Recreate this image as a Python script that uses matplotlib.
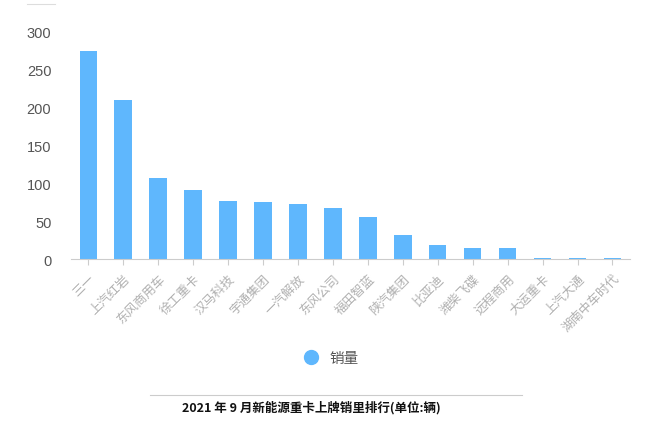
import matplotlib
matplotlib.use("Agg")
import matplotlib.pyplot as plt
from matplotlib.lines import Line2D

plt.rcParams['font.family'] = ['Noto Sans CJK SC', 'DejaVu Sans']

brands = ["三一", "上汽红岩", "东风商用车", "徐工重卡", "汉马科技", "宇通集团",
          "一汽解放", "东风公司", "福田智蓝", "陕汽集团", "比亚迪", "潍柴飞碟",
          "远程商用", "大运重卡", "上汽大通", "湖南中车时代"]
sales = [274, 209, 107, 91, 76, 75, 72, 67, 55, 32, 19, 14, 14, 2, 2, 1]
series_name = "销量"
title = "2021 年 9 月新能源重卡上牌销里排行(单位:辆)"

bar_color = "#5fb7fd"

fig = plt.figure(figsize=(6.68, 4.27), dpi=100)
ax = fig.add_axes([0.106, 0.391, 0.837, 0.534])

x = list(range(len(brands)))
ax.bar(x, sales, width=0.5, color=bar_color)

ax.set_xlim(-0.5, len(brands) - 0.5)
ax.set_ylim(0, 300)
ax.set_yticks([0, 50, 100, 150, 200, 250, 300])
ax.tick_params(axis='y', length=0, labelsize=10.5, labelcolor='#555555', pad=14)
for lbl in ax.get_yticklabels():
    lbl.set_family(['Liberation Sans', 'DejaVu Sans'])
ax.set_xticks(x)
ax.set_xticklabels(brands, rotation=45, ha='right', rotation_mode='anchor',
                   fontsize=9, color='#b0b0b0')
ax.tick_params(axis='x', length=4, color='#cccccc', pad=5)

for s in ['top', 'right', 'left']:
    ax.spines[s].set_visible(False)
ax.spines['bottom'].set_color('#cccccc')

# legend
handle = Line2D([], [], marker='o', linestyle='none', markersize=10,
                markerfacecolor=bar_color, markeredgecolor=bar_color)
fig.legend([handle], [series_name], loc='center', bbox_to_anchor=(0.49, 0.16),
           frameon=False, fontsize=10.5, labelcolor='#555555', handletextpad=0.3)

# caption with rule above
fig.add_artist(Line2D([150 / 668, 522 / 668], [1 - 396 / 427, 1 - 396 / 427],
                      color='#cccccc', linewidth=0.8))
fig.text(182 / 668, 1 - 408 / 427, title, fontsize=9, fontweight='bold',
         color='#111111', ha='left', va='center')

# faint mark at top-left
fig.add_artist(Line2D([27 / 668, 55 / 668], [1 - 5 / 427, 1 - 5 / 427],
                      color='#dddddd', linewidth=0.8))

fig.savefig("out.png", dpi=100)
